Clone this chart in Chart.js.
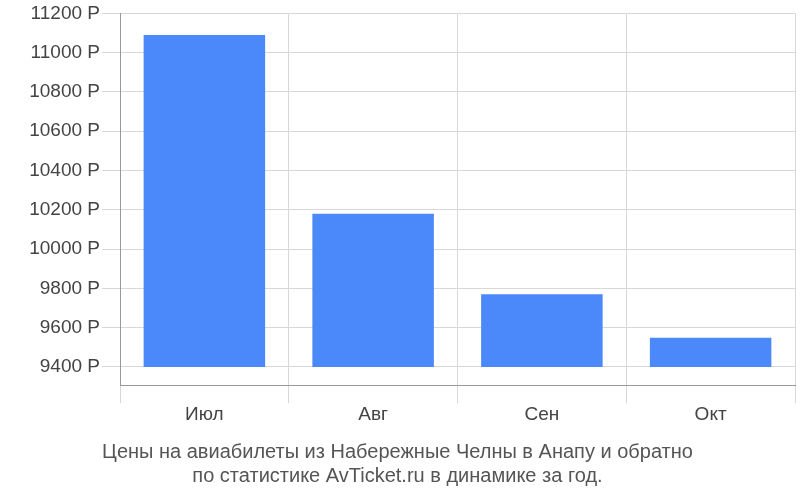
<!DOCTYPE html>
<html><head><meta charset="utf-8">
<script src="https://cdn.jsdelivr.net/npm/chart.js@4"></script>
<style>body{margin:0;background:#fff}#w{width:800px;height:500px}</style>
</head><body><div id="w"><canvas id="c"></canvas></div>
<script>
const categories = ["Июл","Авг","Сен","Окт"];
const prices = [11090, 10180, 9770, 9548];
const base = 9400;
const tickValues = [9400,9600,9800,10000,10200,10400,10600,10800,11000,11200];
const F = '"Liberation Sans", Arial, sans-serif';
new Chart(document.getElementById('c'), {
  type: 'bar',
  data: { labels: categories, datasets: [{ data: prices.map(v => [base, v]), backgroundColor: '#4b89fb', barPercentage: 0.72, categoryPercentage: 1 }] },
  options: {
    responsive: true, maintainAspectRatio: false, animation: false,
    layout: { padding: { left: 0, right: 5, top: 6, bottom: 12 } },
    plugins: { legend: { display: false }, tooltip: { enabled: false },
      title: { display: true, position: 'bottom', text: ['Цены на авиабилеты из Набережные Челны в Анапу и обратно','по статистике AvTicket.ru в динамике за год.'],
        color: '#555', font: { family: F, size: 20, weight: 'normal' }, lineHeight: 1.25, padding: { top: 14, bottom: 0 } } },
    scales: {
      x: { grid: { color: '#d8d8d8', offset: true, tickLength: 18 }, border: { color: '#999' },
        ticks: { color: '#444', font: { family: F, size: 19 }, padding: 0 } },
      y: { min: 9307, max: 11200, afterBuildTicks: s => { s.ticks = tickValues.map(v => ({ value: v })); },
        afterFit: s => { s.width = 120; },
        grid: { color: '#d8d8d8', tickLength: 18 }, border: { color: '#999' },
        ticks: { color: '#444', font: { family: F, size: 19 }, callback: v => v + ' Р', padding: 2 } }
    }
  }
});
</script></body></html>
